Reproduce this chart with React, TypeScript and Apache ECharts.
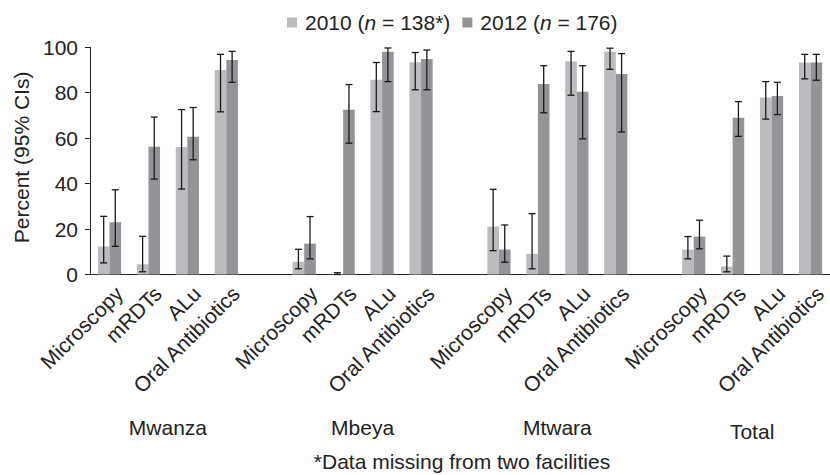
import React, { useEffect, useRef } from "react";
import * as echarts from "echarts";

const groups = ["Mwanza", "Mbeya", "Mtwara", "Total"];
const indicators = ["Microscopy", "mRDTs", "ALu", "Oral Antibiotics"];
const seriesNames = ["2010 (n = 138*)", "2012 (n = 176)"];

// values per group (Mwanza, Mbeya, Mtwara, Total) x indicator
const pct2010 = [12.3, 4.5, 56.1, 90.0, 5.6, 0.3, 85.7, 93.4, 21.1, 9.1, 93.7, 98.0, 11.0, 3.5, 77.9, 93.3];
const lo2010 = [5.1, 1.2, 37.6, 71.6, 2.5, 0.0, 71.7, 81.3, 10.5, 2.5, 78.9, 90.3, 6.9, 1.2, 68.4, 86.1];
const hi2010 = [25.6, 16.8, 72.6, 96.9, 11.1, 0.8, 93.3, 97.7, 37.5, 26.8, 98.2, 99.6, 16.7, 8.1, 84.9, 96.9];
const pct2012 = [23.0, 56.2, 60.6, 94.4, 13.6, 72.5, 98.0, 94.9, 11.0, 83.9, 80.4, 88.3, 16.7, 69.0, 78.6, 93.3];
const lo2012 = [12.4, 42.0, 50.5, 84.6, 6.9, 57.8, 84.9, 81.3, 5.4, 71.2, 59.7, 62.7, 11.3, 60.8, 70.4, 85.5];
const hi2012 = [37.3, 69.3, 73.5, 98.2, 25.5, 83.6, 99.7, 98.8, 21.8, 91.9, 91.9, 97.2, 23.9, 76.1, 84.6, 96.9];
const yTicks = [0, 20, 40, 60, 80, 100];
const footnote = "*Data missing from two facilities";

const FONT = "'Liberation Sans', Arial, Helvetica, sans-serif";
const FS = 21;
const C2010 = "#bbbcbf";
const C2012 = "#939498";
const BAR_W = 11.6;

export default function App() {
  const ref = useRef<HTMLDivElement>(null);
  useEffect(() => {
    if (!ref.current) return;
    const chart = echarts.init(ref.current, undefined, { renderer: "svg" });
    const slots: string[] = [];
    const slotOf: number[] = [];
    groups.forEach((g, gi) => {
      indicators.forEach((ind) => {
        slotOf.push(slots.length);
        slots.push(ind);
      });
      if (gi < groups.length - 1) slots.push("");
    });
    const barData = (vals: number[]) => {
      const arr: any[] = slots.map(() => "-");
      vals.forEach((v, k) => (arr[slotOf[k]] = v));
      return arr;
    };
    const errData = (lo: number[], hi: number[]) => lo.map((l, k) => [slotOf[k], l, hi[k]]);
    const errSeries = (name: string, lo: number[], hi: number[], offset: number) => ({
      type: "custom",
      name: name + " CI",
      z: 5,
      data: errData(lo, hi),
      encode: { x: 0, y: [1, 2] },
      renderItem: (params: any, api: any) => {
        const x = api.value(0);
        const pLo = api.coord([x, api.value(1)]);
        const pHi = api.coord([x, api.value(2)]);
        const cx = pLo[0] + offset;
        const cw = 3.5;
        const style = { stroke: "#1a1a1a", lineWidth: 1.3 };
        return {
          type: "group",
          children: [
            { type: "line", shape: { x1: cx, y1: pLo[1], x2: cx, y2: pHi[1] }, style },
            { type: "line", shape: { x1: cx - cw, y1: pLo[1], x2: cx + cw, y2: pLo[1] }, style },
            { type: "line", shape: { x1: cx - cw, y1: pHi[1], x2: cx + cw, y2: pHi[1] }, style },
          ],
        };
      },
    });
    const gridLeft = 90;
    const gridWidth = 744;
    const option: any = {
      animation: false,
      textStyle: { fontFamily: FONT },
      legend: {
        top: 12,
        left: 287,
        padding: 0,
        itemWidth: 10,
        itemHeight: 10,
        itemGap: 12,
        icon: "rect",
        data: seriesNames,
        formatter: (n: string) => n.replace("(n", "({i|n}"),
        textStyle: {
          fontSize: FS,
          color: "#222",
          fontFamily: FONT,
          padding: [0, 0, 0, 3],
          rich: { i: { fontStyle: "italic", fontSize: FS, color: "#222", fontFamily: FONT } },
        },
      },
      grid: { left: gridLeft, top: 47.3, width: gridWidth, height: 227.2 },
      xAxis: {
        type: "category",
        data: slots,
        axisLine: { lineStyle: { color: "#222", width: 1 } },
        axisTick: { length: 5, lineStyle: { color: "#222" } },
        axisLabel: {
          interval: 0,
          rotate: 45,
          fontSize: FS,
          color: "#222",
          margin: 6,
          fontFamily: FONT,
          verticalAlign: "top",
          padding: [3, 0, 0, 0],
        },
      },
      yAxis: {
        type: "value",
        min: yTicks[0],
        max: yTicks[yTicks.length - 1],
        interval: 20,
        name: "Percent (95% CIs)",
        nameLocation: "middle",
        nameGap: 58,
        nameTextStyle: { fontSize: FS, color: "#222", fontFamily: FONT, padding: [0, 0, 0, 7] },
        axisLine: { show: true, lineStyle: { color: "#222", width: 1 } },
        axisTick: { show: true, length: 5, lineStyle: { color: "#222" } },
        splitLine: { show: false },
        axisLabel: { fontSize: FS, color: "#222", margin: 12, fontFamily: FONT },
      },
      series: [
        { type: "bar", name: seriesNames[0], data: barData(pct2010), barWidth: BAR_W, barGap: "0%", itemStyle: { color: C2010 } },
        { type: "bar", name: seriesNames[1], data: barData(pct2012), barWidth: BAR_W, barGap: "0%", itemStyle: { color: C2012 } },
        errSeries(seriesNames[0], lo2010, hi2010, -BAR_W / 2),
        errSeries(seriesNames[1], lo2012, hi2012, BAR_W / 2),
      ],
    };
    chart.setOption(option);
    const graphics: any[] = groups.map((g, gi) => {
      const a = chart.convertToPixel({ xAxisIndex: 0 }, slotOf[gi * 4 + 1]) as number;
      const b = chart.convertToPixel({ xAxisIndex: 0 }, slotOf[gi * 4 + 2]) as number;
      return {
        type: "text",
        x: (a + b) / 2,
        y: gi === groups.length - 1 ? 431 : 427,
        style: { text: g, font: `${FS}px ${FONT}`, fill: "#222", textAlign: "center", textVerticalAlign: "middle" },
      };
    });
    graphics.push({
      type: "text",
      x: gridLeft + gridWidth / 2,
      y: 461.5,
      style: { text: footnote, font: `${FS}px ${FONT}`, fill: "#222", textAlign: "center", textVerticalAlign: "middle" },
    });
    chart.setOption({ graphic: graphics });
    return () => chart.dispose();
  }, []);
  return (
    <div
      ref={ref}
      style={{ position: "absolute", left: 0, top: 0, width: 830, height: 475, background: "#fff", overflow: "hidden" }}
    />
  );
}
